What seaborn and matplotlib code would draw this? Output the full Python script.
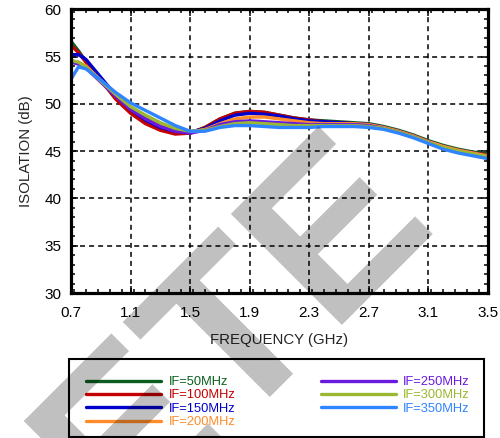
import numpy as np
import pandas as pd
import matplotlib
matplotlib.use("Agg")
import matplotlib.pyplot as plt
from matplotlib.patches import Rectangle
from matplotlib.ticker import MultipleLocator
import seaborn as sns

# frequency points (GHz)
freq = [0.7, 0.75, 0.8, 0.9, 1.0, 1.1, 1.2, 1.3, 1.4, 1.5, 1.6, 1.7, 1.8, 1.9, 2.0,
        2.1, 2.2, 2.3, 2.4, 2.5, 2.6, 2.7, 2.8, 2.9, 3.0, 3.1, 3.2, 3.3, 3.4, 3.5]

# isolation (dB) for each IF
iso_50 = [56.6, 55.6, 54.5, 52.6, 50.6, 49.1, 48.0, 47.3, 46.9, 46.9, 47.5, 48.4, 49.0, 49.2, 49.1,
          48.8, 48.5, 48.3, 48.2, 48.1, 48.0, 47.9, 47.6, 47.2, 46.7, 46.1, 45.6, 45.2, 44.9, 44.7]
iso_100 = [56.2, 55.4, 54.4, 52.5, 50.5, 49.0, 47.9, 47.2, 46.8, 46.9, 47.5, 48.4, 49.0, 49.2, 49.1,
           48.8, 48.5, 48.3, 48.1, 48.0, 47.9, 47.8, 47.5, 47.1, 46.6, 46.0, 45.5, 45.1, 44.8, 44.6]
iso_150 = [55.2, 55.2, 54.7, 52.8, 50.9, 49.4, 48.3, 47.5, 47.1, 47.0, 47.4, 48.2, 48.8, 49.0, 48.9,
           48.7, 48.4, 48.2, 48.1, 48.0, 47.9, 47.8, 47.5, 47.1, 46.6, 46.0, 45.5, 45.1, 44.8, 44.5]
iso_200 = [54.5, 54.4, 54.0, 52.5, 51.0, 49.6, 48.6, 47.8, 47.2, 47.0, 47.3, 47.9, 48.4, 48.6, 48.6,
           48.4, 48.2, 48.0, 47.9, 47.9, 47.9, 47.8, 47.5, 47.1, 46.6, 46.0, 45.5, 45.1, 44.8, 44.5]
iso_250 = [54.4, 54.2, 53.8, 52.3, 50.8, 49.4, 48.4, 47.6, 47.1, 46.9, 47.2, 47.8, 48.1, 48.2, 48.1,
           48.0, 47.9, 47.8, 47.8, 47.8, 47.8, 47.7, 47.4, 47.0, 46.5, 45.9, 45.3, 44.9, 44.6, 44.3]
iso_300 = [54.6, 54.4, 53.9, 52.4, 51.0, 49.7, 48.8, 48.0, 47.4, 47.1, 47.2, 47.6, 47.9, 48.0, 47.9,
           47.8, 47.7, 47.7, 47.7, 47.7, 47.7, 47.6, 47.4, 47.0, 46.5, 45.9, 45.4, 45.0, 44.7, 44.4]
iso_350 = [52.6, 53.9, 53.7, 52.5, 51.2, 50.1, 49.3, 48.5, 47.7, 47.1, 47.1, 47.5, 47.7, 47.7, 47.6,
           47.5, 47.5, 47.5, 47.6, 47.6, 47.6, 47.5, 47.3, 46.9, 46.4, 45.8, 45.2, 44.8, 44.5, 44.2]

labels = ["IF=50MHz", "IF=100MHz", "IF=150MHz", "IF=200MHz",
          "IF=250MHz", "IF=300MHz", "IF=350MHz"]
colors = ["#0b5e1f", "#c40000", "#0000cc", "#ff8c2a",
          "#6a1adf", "#9ab832", "#2f84ff"]
series = [iso_50, iso_100, iso_150, iso_200, iso_250, iso_300, iso_350]

df = pd.concat([pd.DataFrame({"freq": freq, "iso": s, "IF": lab})
                for s, lab in zip(series, labels)], ignore_index=True)

sns.set_style("ticks")
plt.rcParams["font.family"] = ["Liberation Sans", "DejaVu Sans"]
plt.rcParams["lines.scale_dashes"] = False

fig = plt.figure(figsize=(5, 4.38), dpi=100)
ax = fig.add_axes([0.142, 0.331, 0.834, 0.648])

sns.lineplot(data=df, x="freq", y="iso", hue="IF", palette=dict(zip(labels, colors)),
             linewidth=2.4, ax=ax, legend=True)

ax.set_xlim(0.7, 3.5)
ax.set_ylim(30, 60)
ax.xaxis.set_minor_locator(MultipleLocator(0.08))
ax.yaxis.set_major_locator(MultipleLocator(5))
ax.yaxis.set_minor_locator(MultipleLocator(1))
ax.set_xticks(np.arange(0.7, 3.51, 0.4))
ax.set_xticklabels(["0.7", "1.1", "1.5", "1.9", "2.3", "2.7", "3.1", "3.5"])

ax.grid(True, which="major", color="black", linewidth=1.1, linestyle=(0, (3.6, 2.9)))
ax.tick_params(which="both", direction="in", top=True, right=True, width=1.1, colors="black")
ax.tick_params(which="major", length=5, labelsize=11, pad=9)
ax.tick_params(axis="y", which="major", pad=7)
ax.tick_params(which="minor", length=3)
for sp in ax.spines.values():
    sp.set_linewidth(2.3)
    sp.set_color("black")

ax.set_xlabel("FREQUENCY (GHz)", fontsize=10.8, labelpad=10)
ax.set_ylabel("ISOLATION (dB)", fontsize=10.8, labelpad=8)

# legend below the plot
handles, _ = ax.get_legend_handles_labels()
ax.get_legend().remove()
for h in handles:
    h.set_linewidth(2.4)
leg = fig.legend(handles, labels, ncol=2, loc="upper left",
                 bbox_to_anchor=(86 / 500, 1 - 376 / 438), frameon=False,
                 fontsize=9.3, handlelength=5.8, handletextpad=0.6,
                 columnspacing=6.6, labelspacing=0.1, borderpad=0, borderaxespad=0,
                 labelcolor="linecolor")
fig.patches.append(Rectangle((69 / 500, 1 / 438), 415 / 500, 78 / 438, transform=fig.transFigure,
                             fill=False, edgecolor="black", linewidth=1.5))

# watermark
fig.text(437 / 500, 1 - 220 / 438, "OBSOLETE", rotation=45, rotation_mode="anchor",
         ha="right", va="baseline", fontsize=165, fontweight="bold",
         color="black", alpha=0.25, zorder=10)

fig.savefig("out.png", dpi=100)
